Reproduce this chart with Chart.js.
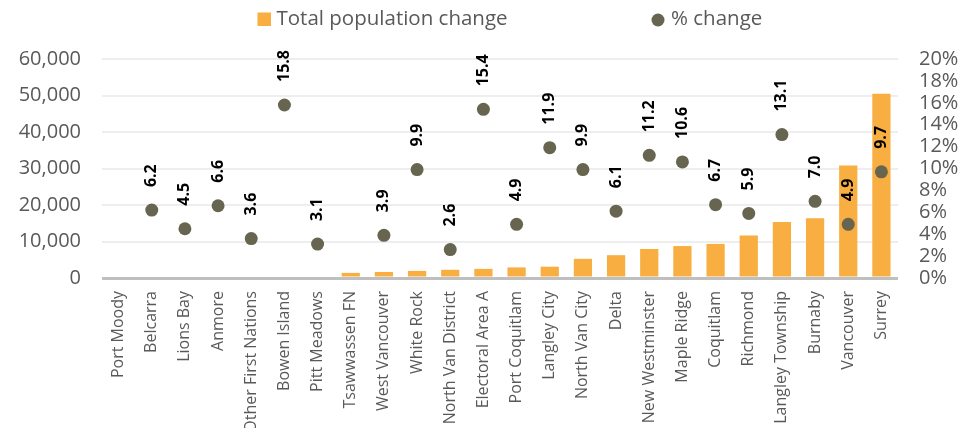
<!DOCTYPE html>
<html>
<head>
<meta charset="utf-8">
<script src="https://cdn.jsdelivr.net/npm/chart.js@4"></script>
<style>
html,body{margin:0;padding:0;background:#fff;overflow:hidden;}
canvas{display:block;}
</style>
</head>
<body>
<canvas id="c" width="958" height="428"></canvas>
<script>
const categories = ["Port Moody","Belcarra","Lions Bay","Anmore","Other First Nations","Bowen Island","Pitt Meadows","Tsawwassen FN","West Vancouver","White Rock","North Van District","Electoral Area A","Port Coquitlam","Langley City","North Van City","Delta","New Westminster","Maple Ridge","Coquitlam","Richmond","Langley Township","Burnaby","Vancouver","Surrey"];
const populationChange = [0,0,0,0,0,0,0,1400,1650,1950,2250,2500,2900,3100,5250,6250,7950,8750,9350,11650,15350,16400,30800,50500];
const percentChange = [null,6.2,4.5,6.6,3.6,15.8,3.1,null,3.9,9.9,2.6,15.4,4.9,11.9,9.9,6.1,11.2,10.6,6.7,5.9,13.1,7.0,4.9,9.7];
const leftTicks = {min:0, max:60000, step:10000};
const rightTicks = {min:0, max:20, step:2};
const legendLabels = ["Total population change","% change"];

const BAR = '#F9AE41';
const DOT = '#67654F';
const TXT = '#595959';
const FONT = "'Open Sans', sans-serif";

const labelPlugin = {
  id:'pctLabels',
  afterDatasetsDraw(chart){
    const ctx = chart.ctx;
    const meta = chart.getDatasetMeta(0);
    ctx.save();
    ctx.font = "bold 16px " + FONT;
    ctx.fillStyle = '#000';
    ctx.textAlign = 'left';
    ctx.textBaseline = 'middle';
    meta.data.forEach((pt,i)=>{
      const v = percentChange[i];
      if (v === null || v === undefined) return;
      ctx.save();
      ctx.translate(pt.x, pt.y - 23);
      ctx.rotate(-Math.PI/2);
      ctx.fillText(v.toFixed(1), 0, 0);
      ctx.restore();
    });
    ctx.restore();
  }
};

const legendPlugin = {
  id:'customLegend',
  afterDraw(chart){
    const ctx = chart.ctx;
    ctx.save();
    ctx.font = "20.5px " + FONT;
    ctx.textBaseline = 'middle';
    ctx.textAlign = 'left';
    ctx.fillStyle = BAR;
    ctx.fillRect(257.5, 12.5, 13.5, 13.5);
    ctx.fillStyle = TXT;
    ctx.fillText(legendLabels[0], 276.5, 19.5);
    ctx.fillStyle = DOT;
    ctx.beginPath();
    ctx.arc(658, 20, 6.5, 0, Math.PI*2);
    ctx.fill();
    ctx.fillStyle = TXT;
    ctx.fillText(legendLabels[1], 671, 19.5);
    ctx.restore();
  }
};

new Chart(document.getElementById('c'), {
  data: {
    labels: categories,
    datasets: [
      {
        type:'line',
        label: legendLabels[1],
        data: percentChange,
        yAxisID:'y1',
        showLine:false,
        pointRadius:6.5,
        pointHoverRadius:6.5,
        pointBackgroundColor:DOT,
        pointBorderWidth:0,
        borderColor:DOT,
        backgroundColor:DOT,
        order:1
      },
      {
        type:'bar',
        label: legendLabels[0],
        data: populationChange,
        yAxisID:'y',
        backgroundColor:BAR,
        borderWidth:0,
        barPercentage:0.55,
        categoryPercentage:1.0,
        order:2
      }
    ]
  },
  options: {
    responsive:false,
    devicePixelRatio:1,
    animation:false,
    layout:{padding:{top:59,left:0,right:0,bottom:0}},
    plugins:{legend:{display:false}, tooltip:{enabled:false}},
    scales:{
      x:{
        grid:{display:false, drawTicks:false},
        border:{display:false},
        ticks:{
          minRotation:90, maxRotation:90, autoSkip:false, padding:13,
          color:TXT, font:{family:FONT, size:16}
        },
        afterFit(s){ s.height = 150; }
      },
      y:{
        position:'left',
        min:leftTicks.min, max:leftTicks.max,
        border:{display:false},
        grid:{
          drawTicks:false,
          color:(c)=> c.tick && c.tick.value===0 ? '#BFBFBF' : '#EEEEEE',
          lineWidth:(c)=> c.tick && c.tick.value===0 ? 3 : 2
        },
        ticks:{
          stepSize:leftTicks.step, padding:21, color:TXT, autoSkip:false,
          font:{family:FONT, size:20},
          callback:(v)=> v.toLocaleString('en-US')
        },
        afterFit(s){ s.width = 102; }
      },
      y1:{
        position:'right',
        min:rightTicks.min, max:rightTicks.max,
        border:{display:false},
        grid:{display:false, drawTicks:false},
        ticks:{
          stepSize:rightTicks.step, padding:21, color:TXT, autoSkip:false,
          font:{family:FONT, size:20},
          callback:(v)=> v + '%'
        },
        afterFit(s){ s.width = 60; }
      }
    }
  },
  plugins:[labelPlugin, legendPlugin]
});
</script>
</body>
</html>
